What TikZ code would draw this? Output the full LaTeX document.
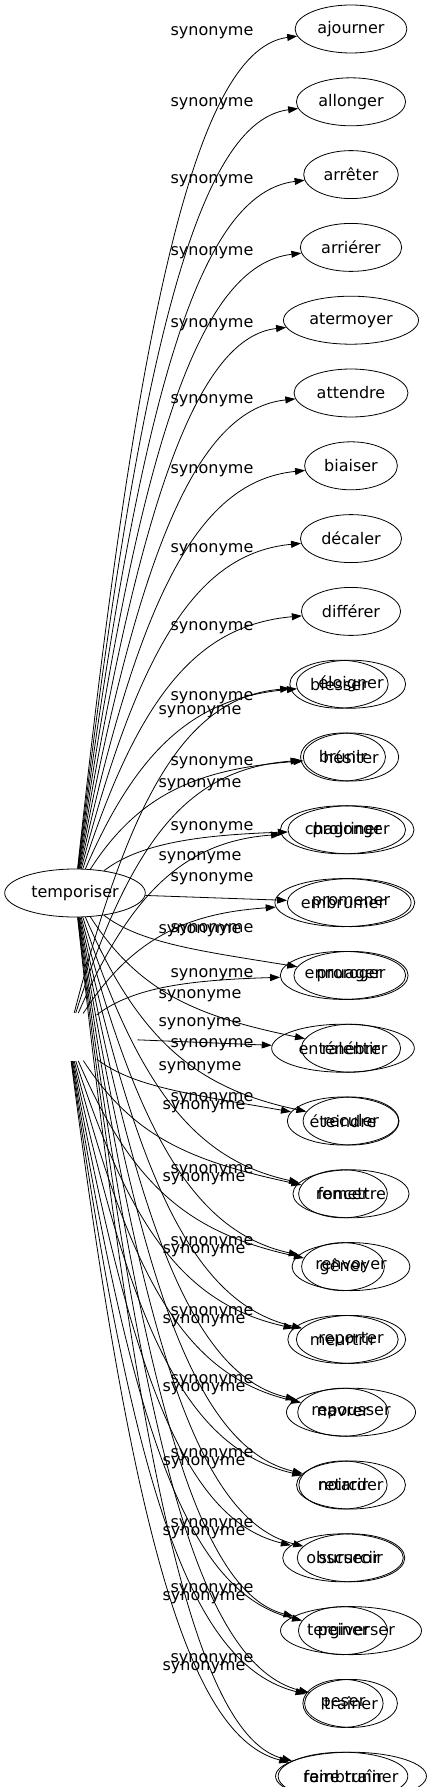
\documentclass[tikz,border=0pt]{standalone}
\usepackage{fontspec}
\setmainfont{DejaVu Sans}
\usepackage{tikz}
\usetikzlibrary{positioning,shapes.geometric,arrows.meta}

\begin{document}
\begin{tikzpicture}[
    x=1pt, y=-1pt,
    node distance=24pt,
    word/.style={ellipse, draw, line width=0.8pt, minimum height=48pt, inner xsep=6pt, inner ysep=2pt, font=\fontsize{16}{19}\selectfont},
    hidden/.style={ellipse, minimum height=48pt, minimum width=140pt},
    rel/.style={inner sep=0pt, font=\fontsize{16}{19}\selectfont},
    syn/.style={line width=0.8pt, -{Triangle[length=10pt,width=7pt]}}
]
\useasboundingbox (0,0) rectangle (441,1787);

% Source word
\node[word] (temp) at (75,893) {temporiser};
\node[hidden] (temp2) at (68,1037) {};

% First list of synonyms
\node[word] (ajourner) at (351,29) {ajourner};
\node[word, below=of ajourner] (allonger) {allonger};
\node[word, below=of allonger] (arreter) {arrêter};
\node[word, below=of arreter] (arrierer) {arriérer};
\node[word, below=of arrierer] (atermoyer) {atermoyer};
\node[word, below=of atermoyer] (attendre) {attendre};
\node[word, below=of attendre] (biaiser) {biaiser};
\node[word, below=of biaiser] (decaler) {décaler};
\node[word, below=of decaler] (differer) {différer};
\node[word, below=of differer] (eloigner) {éloigner};
\node[word, below=of eloigner] (hesiter) {hésiter};
\node[word, below=of hesiter] (prolonger) {prolonger};
\node[word, below=of prolonger] (promener) {promener};
\node[word, below=of promener] (proroger) {proroger};
\node[word, below=of proroger] (ralentir) {ralentir};
\node[word, below=of ralentir] (reculer) {reculer};
\node[word, below=of reculer] (remettre) {remettre};
\node[word, below=of remettre] (renvoyer) {renvoyer};
\node[word, below=of renvoyer] (reporter) {reporter};
\node[word, below=of reporter] (repousser) {repousser};
\node[word, below=of repousser] (retarder) {retarder};
\node[word, below=of retarder] (surseoir) {surseoir};
\node[word, below=of surseoir] (tergiverser) {tergiverser};
\node[word, below=of tergiverser] (trainer) {traîner};
\node[word, below=of trainer] (fairetrainer) {faire traîner};

% Second list, drawn over the first one
\node[word, xshift=-12pt] (blesser) at (eloigner) {blesser};
\node[word, xshift=-8pt] (brunir) at (hesiter) {brunir};
\node[word, xshift=-8pt] (chagriner) at (prolonger) {chagriner};
\node[word, xshift=-8pt] (embrumer) at (promener) {embrumer};
\node[word, xshift=-8pt] (ennuager) at (proroger) {ennuager};
\node[word, xshift=-8pt] (entenebrer) at (ralentir) {enténébrer};
\node[word, xshift=-8pt] (eteindre) at (reculer) {éteindre};
\node[word, xshift=-8pt] (foncer) at (remettre) {foncer};
\node[word, xshift=-8pt] (gener) at (renvoyer) {gêner};
\node[word, xshift=-8pt] (meurtrir) at (reporter) {meurtrir};
\node[word, xshift=-8pt] (navrer) at (repousser) {navrer};
\node[word, xshift=-8pt] (noircir) at (retarder) {noircir};
\node[word, xshift=-8pt] (obscurcir) at (surseoir) {obscurcir};
\node[word, xshift=-8pt] (peiner) at (tergiverser) {peiner};
\node[word, xshift=-8pt] (peser) at (trainer) {peser};
\node[word, xshift=-8pt] (rembrunir) at (fairetrainer) {rembrunir};

% Edges of the first list
\draw[syn] (temp) .. controls (140,288) and (200,49) .. (ajourner);
\draw[syn] (temp) .. controls (140,339) and (200,121) .. (allonger);
\draw[syn] (temp) .. controls (140,389) and (200,193) .. (arreter);
\draw[syn] (temp) .. controls (140,439) and (200,265) .. (arrierer);
\draw[syn] (temp) .. controls (140,490) and (200,337) .. (atermoyer);
\draw[syn] (temp) .. controls (140,540) and (200,409) .. (attendre);
\draw[syn] (temp) .. controls (140,591) and (200,481) .. (biaiser);
\draw[syn] (temp) .. controls (140,641) and (200,553) .. (decaler);
\draw[syn] (temp) .. controls (140,691) and (200,625) .. (differer);
\draw[syn] (temp) .. controls (140,742) and (200,697) .. (eloigner);
\draw[syn] (temp) .. controls (140,792) and (200,769) .. (hesiter);
\draw[syn] (temp) .. controls (140,843) and (200,835) .. (prolonger);
\draw[syn] (temp) -- (promener);
\draw[syn] (temp) .. controls (140,943) and (200,951) .. (proroger);
\draw[syn] (temp) .. controls (140,994) and (200,1017) .. (ralentir);
\draw[syn] (temp) .. controls (140,1044) and (200,1089) .. (reculer);
\draw[syn] (temp) .. controls (140,1095) and (200,1161) .. (remettre);
\draw[syn] (temp) .. controls (140,1145) and (200,1233) .. (renvoyer);
\draw[syn] (temp) .. controls (140,1195) and (200,1305) .. (reporter);
\draw[syn] (temp) .. controls (140,1246) and (200,1377) .. (repousser);
\draw[syn] (temp) .. controls (140,1296) and (200,1449) .. (retarder);
\draw[syn] (temp) .. controls (140,1346) and (200,1521) .. (surseoir);
\draw[syn] (temp) .. controls (140,1397) and (200,1593) .. (tergiverser);
\draw[syn] (temp) .. controls (140,1447) and (200,1665) .. (trainer);
\draw[syn] (temp) .. controls (140,1498) and (200,1737) .. (fairetrainer);

% Edges of the second list
\draw[syn] (temp2) .. controls (133,785) and (190,697) .. (blesser);
\draw[syn] (temp2) .. controls (133,835) and (190,769) .. (brunir);
\draw[syn] (temp2) .. controls (133,886) and (190,841) .. (chagriner);
\draw[syn] (temp2) .. controls (133,936) and (190,913) .. (embrumer);
\draw[syn] (temp2) .. controls (133,987) and (190,980) .. (ennuager);
\draw[syn] (temp2) -- (entenebrer);
\draw[syn] (temp2) .. controls (133,1087) and (190,1094) .. (eteindre);
\draw[syn] (temp2) .. controls (133,1137) and (190,1161) .. (foncer);
\draw[syn] (temp2) .. controls (133,1188) and (190,1233) .. (gener);
\draw[syn] (temp2) .. controls (133,1238) and (190,1305) .. (meurtrir);
\draw[syn] (temp2) .. controls (133,1289) and (190,1377) .. (navrer);
\draw[syn] (temp2) .. controls (133,1339) and (190,1449) .. (noircir);
\draw[syn] (temp2) .. controls (133,1390) and (190,1521) .. (obscurcir);
\draw[syn] (temp2) .. controls (133,1440) and (190,1593) .. (peiner);
\draw[syn] (temp2) .. controls (133,1490) and (190,1665) .. (peser);
\draw[syn] (temp2) .. controls (133,1541) and (190,1737) .. (rembrunir);

% Labels, first list
\node[rel] (l1) at (212,33) {synonyme};
\node[rel] (l2) at (212,104) {synonyme};
\node[rel] (l3) at (212,181) {synonyme};
\node[rel] (l4) at (212,253) {synonyme};
\node[rel] (l5) at (212,325) {synonyme};
\node[rel] (l6) at (212,401) {synonyme};
\node[rel] (l7) at (212,471) {synonyme};
\node[rel] (l8) at (212,550) {synonyme};
\node[rel] (l9) at (212,628) {synonyme};
\node[rel] (l10) at (212,698) {synonyme};
\node[rel] (l11) at (212,763) {synonyme};
\node[rel] (l12) at (212,828) {synonyme};
\node[rel] (l13) at (212,879) {synonyme};
\node[rel] (l14) at (212,930) {synonyme};
\node[rel] (l15) at (212,975) {synonyme};
\node[rel] (l16) at (212,1045) {synonyme};
\node[rel] (l17) at (212,1099) {synonyme};
\node[rel] (l18) at (212,1171) {synonyme};
\node[rel] (l19) at (212,1243) {synonyme};
\node[rel] (l20) at (212,1313) {synonyme};
\node[rel] (l21) at (212,1381) {synonyme};
\node[rel] (l22) at (212,1455) {synonyme};
\node[rel] (l23) at (212,1525) {synonyme};
\node[rel] (l24) at (212,1590) {synonyme};
\node[rel] (l25) at (212,1660) {synonyme};

% Labels, second list
\node[rel] (m1) at (200,712) {synonyme};
\node[rel] (m2) at (200,785) {synonyme};
\node[rel] (m3) at (200,858) {synonyme};
\node[rel] (m4) at (200,931) {synonyme};
\node[rel] (m5) at (200,996) {synonyme};
\node[rel] (m6) at (200,1024) {synonyme};
\node[rel] (m7) at (200,1068) {synonyme};
\node[rel] (m8) at (204,1107) {synonyme};
\node[rel] (m9) at (204,1179) {synonyme};
\node[rel] (m10) at (204,1251) {synonyme};
\node[rel] (m11) at (204,1321) {synonyme};
\node[rel] (m12) at (204,1389) {synonyme};
\node[rel] (m13) at (204,1463) {synonyme};
\node[rel] (m14) at (204,1533) {synonyme};
\node[rel] (m15) at (204,1598) {synonyme};
\node[rel] (m16) at (204,1668) {synonyme};

\end{tikzpicture}
\end{document}
